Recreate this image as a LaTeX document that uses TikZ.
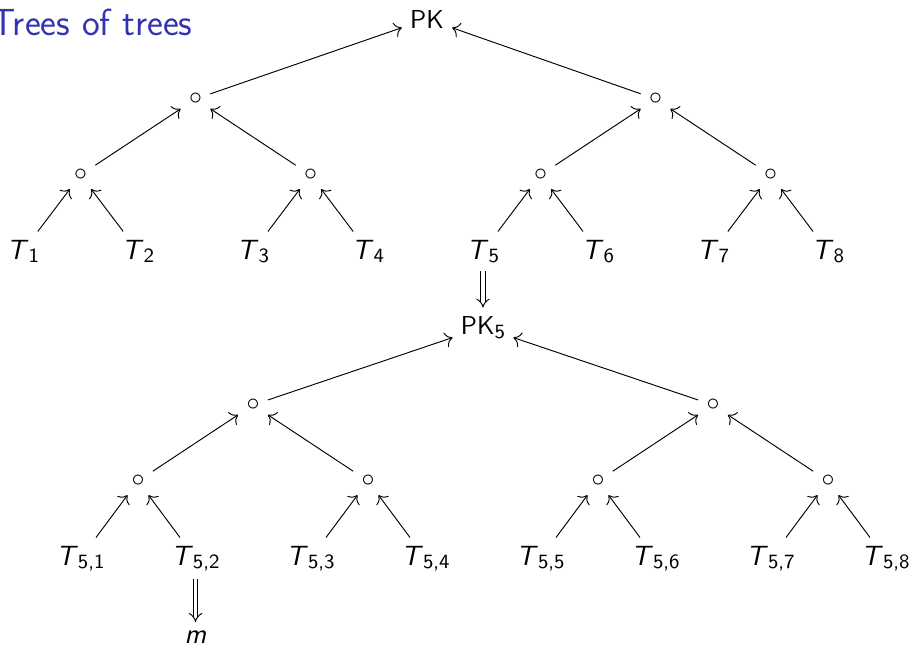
\documentclass[tikz,border=0pt]{standalone}
\usepackage{fontspec}
\usetikzlibrary{arrows.meta}
\definecolor{beamerblue}{rgb}{0.2,0.2,0.7}
\newcommand\Tl[1]{{\fontsize{11.8}{13}\selectfont\textit{T}}\raisebox{-1.4pt}{\fontsize{8.6}{9}\selectfont #1}}
\newcommand\PKsub[1]{PK\raisebox{-1.8pt}{\fontsize{8.6}{9}\selectfont #1}}
\begin{document}
\begin{tikzpicture}[x=0.4237pt,y=-0.4237pt,
  every node/.style={font=\fontsize{11}{13}\selectfont\sffamily},
  lbl/.style={anchor=base},
  dot/.style={},
  up/.style={-{To[scale=1.25]}, line width=0.4pt},
  imp/.style={double, double distance=1.6pt, -{Implies}, line width=0.4pt}]
\useasboundingbox (0,0) rectangle (913,645);
% title
\node[anchor=base east, inner sep=0pt, text=beamerblue,
      font=\fontsize{16}{19}\selectfont\sffamily] (title) at (193,35) {Trees of trees};
% ---- tree 1
\node[lbl] (pk) at (427,28) {PK};
\node[dot] (a1) at (195.5,99) {$\circ$};
\node[dot] (a2) at (655.5,99) {$\circ$};
\node[dot] (b1) at (80.5,175) {$\circ$};
\node[dot] (b2) at (310.5,175) {$\circ$};
\node[dot] (b3) at (540.5,175) {$\circ$};
\node[dot] (b4) at (770.5,175) {$\circ$};
\node[lbl] (t1) at (23,259) {\Tl{1}};
\node[lbl] (t2) at (138,259) {\Tl{2}};
\node[lbl] (t3) at (253,259) {\Tl{3}};
\node[lbl] (t4) at (368,259) {\Tl{4}};
\node[lbl] (t5) at (483,259) {\Tl{5}};
\node[lbl] (t6) at (598,259) {\Tl{6}};
\node[lbl] (t7) at (713,259) {\Tl{7}};
\node[lbl] (t8) at (828,259) {\Tl{8}};
\draw[up] (a1) -- (pk);
\draw[up] (a2) -- (pk);
\draw[up] (b1) -- (a1);
\draw[up] (b2) -- (a1);
\draw[up] (b3) -- (a2);
\draw[up] (b4) -- (a2);
\draw[up] (t1) -- (b1);
\draw[up] (t2) -- (b1);
\draw[up] (t3) -- (b2);
\draw[up] (t4) -- (b2);
\draw[up] (t5) -- (b3);
\draw[up] (t6) -- (b3);
\draw[up] (t7) -- (b4);
\draw[up] (t8) -- (b4);
% ---- tree 2
\node[lbl] (pk5) at (483,334) {\PKsub{5}};
\node[dot] (c1) at (253,405) {$\circ$};
\node[dot] (c2) at (713,405) {$\circ$};
\node[dot] (d1) at (138,481) {$\circ$};
\node[dot] (d2) at (368,481) {$\circ$};
\node[dot] (d3) at (598,481) {$\circ$};
\node[dot] (d4) at (828,481) {$\circ$};
\node[lbl] (s1) at (80.5,565) {\Tl{5,1}};
\node[lbl] (s2) at (195.5,565) {\Tl{5,2}};
\node[lbl] (s3) at (310.5,565) {\Tl{5,3}};
\node[lbl] (s4) at (425.5,565) {\Tl{5,4}};
\node[lbl] (s5) at (540.5,565) {\Tl{5,5}};
\node[lbl] (s6) at (655.5,565) {\Tl{5,6}};
\node[lbl] (s7) at (770.5,565) {\Tl{5,7}};
\node[lbl] (s8) at (885.5,565) {\Tl{5,8}};
\draw[up] (c1) -- (pk5);
\draw[up] (c2) -- (pk5);
\draw[up] (d1) -- (c1);
\draw[up] (d2) -- (c1);
\draw[up] (d3) -- (c2);
\draw[up] (d4) -- (c2);
\draw[up] (s1) -- (d1);
\draw[up] (s2) -- (d1);
\draw[up] (s3) -- (d2);
\draw[up] (s4) -- (d2);
\draw[up] (s5) -- (d3);
\draw[up] (s6) -- (d3);
\draw[up] (s7) -- (d4);
\draw[up] (s8) -- (d4);
% ---- m
\node[lbl] (m) at (195.5,643) {\fontsize{11.8}{13}\selectfont\textit{m}};
\draw[imp] (t5.south) -- (pk5.north);
\draw[imp] (s2.south) -- (m.north);
\end{tikzpicture}
\end{document}
